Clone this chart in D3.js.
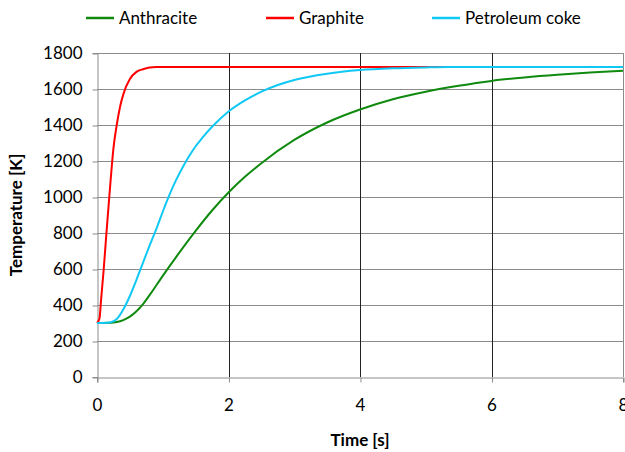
<!DOCTYPE html>
<html>
<head>
<meta charset="utf-8">
<script src="https://cdn.jsdelivr.net/npm/d3@7"></script>
<style>
  body { margin: 0; background: #fff; }
  svg { display: block; font-family: Lato, "Open Sans", sans-serif; }
</style>
</head>
<body>
<svg></svg>
<script>
"use strict";

// Data
const anthraciteT = [0, 0.2, 0.3, 0.4, 0.5, 0.6, 0.7, 0.8, 0.9, 1.0, 1.2, 1.5, 1.75, 2.0, 2.25, 2.5, 3.0, 3.5, 4.0, 4.5, 5.0, 5.5, 6.0, 6.5, 7.0, 7.5, 8.0];
const anthraciteK = [300, 301, 305, 316, 335, 365, 405, 455, 508, 562, 665, 812, 925, 1025, 1112, 1188, 1317, 1414, 1486, 1543, 1585, 1618, 1645, 1664, 1679, 1691, 1701];

const graphiteT = [0, 0.02, 0.04, 0.06, 0.1, 0.15, 0.2, 0.25, 0.3, 0.35, 0.4, 0.5, 0.6, 0.7, 0.8, 0.9, 5.33];
const graphiteK = [300, 310, 330, 420, 590, 830, 1060, 1270, 1400, 1500, 1570, 1655, 1695, 1710, 1719, 1722, 1722];

const cokeT = [0, 0.2, 0.3, 0.4, 0.5, 0.6, 0.7, 0.8, 0.9, 1.0, 1.1, 1.2, 1.3, 1.4, 1.5, 1.6, 1.75, 2.0, 2.25, 2.5, 2.75, 3.0, 3.5, 4.0, 4.5, 5.0, 5.35, 6.0, 7.0, 8.0];
const cokeK = [300, 303, 322, 375, 450, 540, 635, 730, 820, 918, 1010, 1092, 1163, 1226, 1282, 1328, 1390, 1475, 1537, 1585, 1622, 1650, 1685, 1705, 1715, 1720, 1722, 1722, 1722, 1722];

const seriesNames = ["Anthracite", "Graphite", "Petroleum coke"];
const seriesColors = ["#0f8a0f", "#ff0000", "#10c8f4"];
const xTicks = [0, 2, 4, 6, 8];
const yTicks = [0, 200, 400, 600, 800, 1000, 1200, 1400, 1600, 1800];

const series = [
  { name: seriesNames[0], color: seriesColors[0], t: anthraciteT, k: anthraciteK },
  { name: seriesNames[1], color: seriesColors[1], t: graphiteT, k: graphiteK },
  { name: seriesNames[2], color: seriesColors[2], t: cokeT, k: cokeK }
];

// Sizes
const W = 625, H = 452;
const margin = { l: 97, r: 2, t: 53, b: 75 };
const width = W - margin.l - margin.r;
const height = H - margin.t - margin.b;

const svg = d3.select("svg")
  .attr("width", W)
  .attr("height", H);

const g = svg.append("g")
  .attr("transform", `translate(${margin.l}, ${margin.t})`);

// Scales
const xScale = d3.scaleLinear().domain([0, 8]).range([0, width]);
const yScale = d3.scaleLinear().domain([0, 1800]).range([height, 0]);

// Horizontal grid
g.append("g")
  .selectAll("line")
  .data(yTicks.filter(d => d > 0))
  .join("line")
    .attr("x1", 0)
    .attr("x2", width)
    .attr("y1", d => Math.round(yScale(d)) + 0.5)
    .attr("y2", d => Math.round(yScale(d)) + 0.5)
    .attr("stroke", "#8c8c8c")
    .attr("stroke-width", 1);

// Vertical grid
g.append("g")
  .selectAll("line")
  .data(xTicks.filter(d => d > 0 && d < 8))
  .join("line")
    .attr("x1", d => Math.round(xScale(d)) + 0.5)
    .attr("x2", d => Math.round(xScale(d)) + 0.5)
    .attr("y1", 0)
    .attr("y2", height)
    .attr("stroke", "#222")
    .attr("stroke-width", 1);

// Right border
g.append("line")
  .attr("x1", width + 0.5).attr("x2", width + 0.5)
  .attr("y1", 0).attr("y2", height)
  .attr("stroke", "#8c8c8c");

// Axes
const yAxis = g.append("g")
  .attr("transform", "translate(0.5, 0)")
  .call(d3.axisLeft(yScale).tickValues(yTicks).tickSize(5).tickPadding(10).tickFormat(d3.format("d")));

const xAxis = g.append("g")
  .attr("transform", `translate(0, ${height + 0.5})`)
  .call(d3.axisBottom(xScale).tickValues(xTicks).tickSize(5).tickPadding(16).tickFormat(d3.format("d")));

[yAxis, xAxis].forEach(ax => {
  ax.select(".domain").attr("stroke", "#8c8c8c");
  ax.selectAll(".tick line").attr("stroke", "#8c8c8c");
  ax.selectAll(".tick text")
    .attr("fill", "#000")
    .style("font-size", "17px")
    .style("font-family", "Lato, sans-serif");
});
yAxis.selectAll(".tick line").attr("transform", "translate(0, 0.5)");
xAxis.selectAll(".tick line").attr("transform", "translate(0.5, 0)");

// Lines
const line = d3.line()
  .x(d => xScale(d[0]))
  .y(d => yScale(d[1]))
  .curve(d3.curveMonotoneX);

series.forEach(s => {
  g.append("path")
    .attr("d", line(s.t.map((t, i) => [t, s.k[i]])))
    .attr("fill", "none")
    .attr("stroke", s.color)
    .attr("stroke-width", 2);
});

// Axis titles
svg.append("text")
  .attr("x", margin.l + width / 2)
  .attr("y", 446)
  .attr("text-anchor", "middle")
  .style("font-size", "17px")
  .style("font-weight", "bold")
  .text("Time [s]");

svg.append("text")
  .attr("transform", `translate(22, ${margin.t + height / 2}) rotate(-90)`)
  .attr("text-anchor", "middle")
  .style("font-size", "17px")
  .style("font-weight", "bold")
  .text("Temperature [K]");

// Legend
const legendX = [86, 266, 432];
const legend = svg.append("g");
series.forEach((s, i) => {
  legend.append("line")
    .attr("x1", legendX[i]).attr("x2", legendX[i] + 28)
    .attr("y1", 18).attr("y2", 18)
    .attr("stroke", s.color)
    .attr("stroke-width", 2.5);
  legend.append("text")
    .attr("x", legendX[i] + 33)
    .attr("y", 24)
    .style("font-size", "17px")
    .text(s.name);
});
</script>
</body>
</html>
